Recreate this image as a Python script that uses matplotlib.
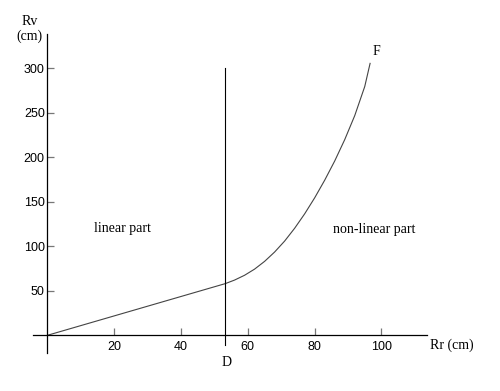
import matplotlib
matplotlib.use('Agg')
import matplotlib.pyplot as plt

# Rr / Rv curve
rr = [0, 53.2, 56, 59, 62, 65, 68, 71, 74, 77, 80, 83, 86, 89, 92, 95, 96.6]
rv = [0, 58, 62, 67.4, 74.3, 83, 93.5, 105.8, 120.2, 136.4, 154.4, 174.2,
      195.8, 219.8, 246.8, 279.5, 305.5]

x_ticks = [20, 40, 60, 80, 100]
y_ticks = [50, 100, 150, 200, 250, 300]
d_pos = 53.2

serif = ['Liberation Serif', 'DejaVu Serif']
sans = ['Liberation Sans', 'DejaVu Sans']

fig = plt.figure(figsize=(5, 3.91), dpi=100)
ax = fig.add_axes([0, 0, 1, 1])
ax.set_xlim(-14.22, 135.5)
ax.set_ylim(-62.6, 376.7)

# axes through the origin
for side in ['top', 'right']:
    ax.spines[side].set_visible(False)
ax.spines['left'].set_position(('data', 0))
ax.spines['bottom'].set_position(('data', 0))
ax.spines['left'].set_bounds(-20, 338.5)
ax.spines['bottom'].set_bounds(-4.3, 113.5)
ax.spines['left'].set_linewidth(0.9)
ax.spines['bottom'].set_linewidth(0.9)

ax.set_xticks(x_ticks)
ax.set_yticks(y_ticks)
ax.tick_params(axis='both', direction='in', length=5, width=0.9, color='#777777')
ax.tick_params(axis='x', pad=4)
ax.tick_params(axis='y', pad=2)
for lab in ax.get_xticklabels() + ax.get_yticklabels():
    lab.set_family(sans)
    lab.set_fontsize(9)

# curve and the D line
ax.plot(rr, rv, color='#444444', linewidth=0.8)
ax.plot([d_pos, d_pos], [-11, 300], color='black', linewidth=0.8)

ax.text(22.4, 120, 'linear part', family=serif, fontsize=10, ha='center', va='center')
ax.text(97.7, 118.3, 'non-linear part', family=serif, fontsize=10, ha='center', va='center')
ax.text(98.6, 318.6, 'F', family=serif, fontsize=10, ha='center', va='center')
ax.text(53.6, -30.3, 'D', family=serif, fontsize=10, ha='center', va='center')
ax.text(114.5, -10.9, 'Rr (cm)', family=serif, fontsize=10, ha='left', va='center')
ax.text(-5.4, 352, 'Rv', family=serif, fontsize=10, ha='center', va='center')
ax.text(-5.4, 336, '(cm)', family=serif, fontsize=10, ha='center', va='center')

fig.savefig('out.png', dpi=100)
